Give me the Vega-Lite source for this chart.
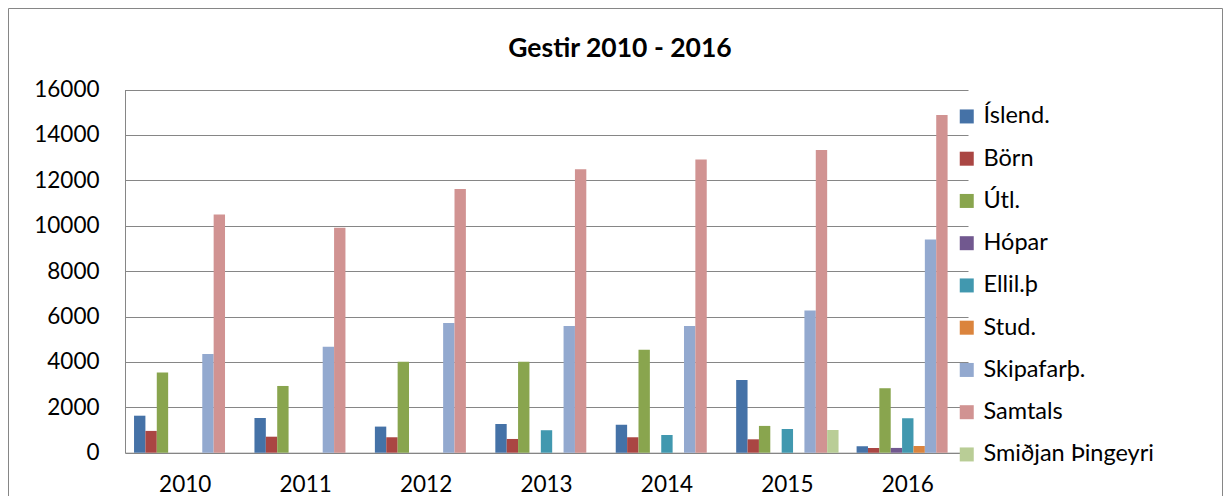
{
  "$schema": "https://vega.github.io/schema/vega-lite/v6.json",
  "autosize": "none",
  "width": 1214,
  "height": 488,
  "padding": {"left": 8, "top": 8, "right": 4, "bottom": 0},
  "background": "white",
  "config": {
    "font": "Lato",
    "view": {"stroke": "#868686", "strokeWidth": 1}
  },
  "title": {
    "text": "Gestir 2010 - 2016",
    "font": "Lato",
    "fontSize": 26.5,
    "fontWeight": "bold",
    "color": "black",
    "anchor": "middle",
    "frame": "group",
    "dx": 5,
    "dy": 58
  },
  "data": {
    "values": [
      {"year": "2010", "series": "Íslend.", "value": 1630},
      {"year": "2010", "series": "Börn", "value": 960},
      {"year": "2010", "series": "Útl.", "value": 3530},
      {"year": "2010", "series": "Skipafarþ.", "value": 4350},
      {"year": "2010", "series": "Samtals", "value": 10490},
      {"year": "2011", "series": "Íslend.", "value": 1530},
      {"year": "2011", "series": "Börn", "value": 705},
      {"year": "2011", "series": "Útl.", "value": 2940},
      {"year": "2011", "series": "Skipafarþ.", "value": 4670},
      {"year": "2011", "series": "Samtals", "value": 9905},
      {"year": "2012", "series": "Íslend.", "value": 1150},
      {"year": "2012", "series": "Börn", "value": 680},
      {"year": "2012", "series": "Útl.", "value": 4010},
      {"year": "2012", "series": "Skipafarþ.", "value": 5715},
      {"year": "2012", "series": "Samtals", "value": 11620},
      {"year": "2013", "series": "Íslend.", "value": 1265},
      {"year": "2013", "series": "Börn", "value": 605},
      {"year": "2013", "series": "Útl.", "value": 4005},
      {"year": "2013", "series": "Ellil.þ", "value": 990},
      {"year": "2013", "series": "Skipafarþ.", "value": 5585},
      {"year": "2013", "series": "Samtals", "value": 12490},
      {"year": "2014", "series": "Íslend.", "value": 1235},
      {"year": "2014", "series": "Börn", "value": 680},
      {"year": "2014", "series": "Útl.", "value": 4540},
      {"year": "2014", "series": "Ellil.þ", "value": 780},
      {"year": "2014", "series": "Skipafarþ.", "value": 5585},
      {"year": "2014", "series": "Samtals", "value": 12915},
      {"year": "2015", "series": "Íslend.", "value": 3205},
      {"year": "2015", "series": "Börn", "value": 590},
      {"year": "2015", "series": "Útl.", "value": 1180},
      {"year": "2015", "series": "Ellil.þ", "value": 1045},
      {"year": "2015", "series": "Skipafarþ.", "value": 6260},
      {"year": "2015", "series": "Samtals", "value": 13330},
      {"year": "2015", "series": "Smiðjan Þingeyri", "value": 1000},
      {"year": "2016", "series": "Íslend.", "value": 280},
      {"year": "2016", "series": "Börn", "value": 210},
      {"year": "2016", "series": "Útl.", "value": 2840},
      {"year": "2016", "series": "Hópar", "value": 210},
      {"year": "2016", "series": "Ellil.þ", "value": 1515},
      {"year": "2016", "series": "Stud.", "value": 295},
      {"year": "2016", "series": "Skipafarþ.", "value": 9390},
      {"year": "2016", "series": "Samtals", "value": 14875}
    ]
  },
  "mark": {"type": "bar"},
  "encoding": {
    "x": {
      "field": "year",
      "type": "nominal",
      "scale": {
        "domain": ["2010", "2011", "2012", "2013", "2014", "2015", "2016"],
        "range": [117, 960],
        "paddingInner": 0.15,
        "paddingOuter": 0.075
      },
      "axis": {
        "title": null,
        "orient": "bottom",
        "offset": -43.3,
        "labelAngle": 0,
        "labelFont": "Lato",
        "labelFontSize": 22.5,
        "labelColor": "black",
        "labelPadding": 21,
        "ticks": false,
        "domainColor": "#868686",
        "domainWidth": 1,
        "grid": false
      }
    },
    "xOffset": {
      "field": "series",
      "type": "nominal",
      "scale": {
        "domain": ["Íslend.", "Börn", "Útl.", "Hópar", "Ellil.þ", "Stud.", "Skipafarþ.", "Samtals", "Smiðjan Þingeyri"],
        "paddingInner": 0,
        "paddingOuter": 0
      }
    },
    "y": {
      "field": "value",
      "type": "quantitative",
      "scale": {"domain": [0, 16000], "range": [444.7, 81.5], "nice": false, "zero": true},
      "axis": {
        "title": null,
        "orient": "left",
        "offset": -117,
        "values": [0, 2000, 4000, 6000, 8000, 10000, 12000, 14000, 16000],
        "format": "d",
        "labelFont": "Lato",
        "labelFontSize": 22.5,
        "labelColor": "black",
        "labelPadding": 26,
        "ticks": false,
        "domainColor": "#868686",
        "domainWidth": 1,
        "grid": true,
        "gridColor": "#868686",
        "gridWidth": 1
      }
    },
    "color": {
      "field": "series",
      "type": "nominal",
      "scale": {
        "domain": ["Íslend.", "Börn", "Útl.", "Hópar", "Ellil.þ", "Stud.", "Skipafarþ.", "Samtals", "Smiðjan Þingeyri"],
        "range": ["#4572A7", "#AA4643", "#89A54E", "#71588F", "#4198AF", "#DB843D", "#93A9CF", "#D19392", "#B9CD96"]
      },
      "legend": {
        "title": null,
        "orient": "none",
        "legendX": 947,
        "legendY": 96.7,
        "padding": 0,
        "symbolType": "square",
        "symbolSize": 196,
        "symbolStrokeWidth": 0,
        "symbolOpacity": 1,
        "labelFont": "Lato",
        "labelFontSize": 23.5,
        "labelColor": "black",
        "labelOffset": 5,
        "labelLimit": 300,
        "rowPadding": 17.25
      }
    }
  }
}
